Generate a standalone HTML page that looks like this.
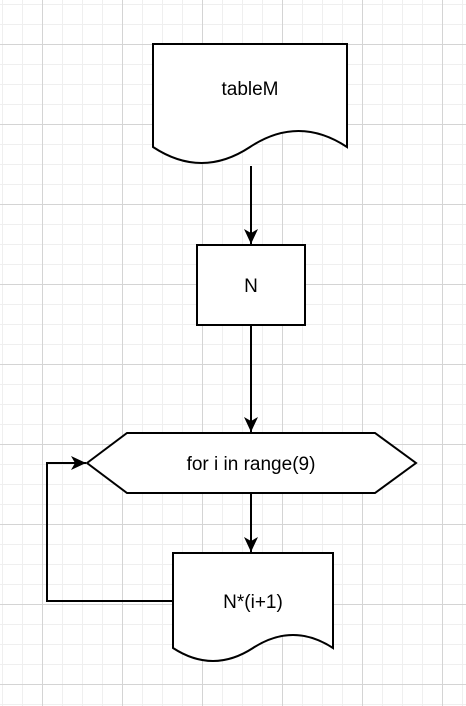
<!DOCTYPE html>
<html><head><style>
html,body{margin:0;padding:0;background:#fff;}
svg{display:block;}
text{font-family:"Liberation Sans",Arial,sans-serif;font-size:19px;fill:#000;}
</style></head><body>
<svg width="466" height="706" viewBox="0 0 466 706" xmlns="http://www.w3.org/2000/svg">
<defs>
<pattern id="minor" width="20" height="20" patternUnits="userSpaceOnUse" x="2" y="4">
<path d="M0.5 0V20M0 0.5H20" stroke="#efefef" stroke-width="1" fill="none"/>
</pattern>
<pattern id="major" width="80" height="80" patternUnits="userSpaceOnUse" x="42" y="44">
<path d="M0.5 0V80M0 0.5H80" stroke="#d4d4d4" stroke-width="1" fill="none"/>
</pattern>
<marker id="ah" markerWidth="16" markerHeight="14" refX="15" refY="7" orient="auto" markerUnits="userSpaceOnUse">
<path d="M0,0 L15,7 L0,14 L4,7 Z" fill="#000"/>
</marker>
</defs>
<rect width="466" height="706" fill="url(#minor)"/>
<rect width="466" height="706" fill="url(#major)"/>
<g stroke="#000" stroke-width="2" fill="#fff">
<path d="M153,44 H347 V147 Q298.5,115 250,147 Q201.5,179 153,147 Z" transform="matrix(-1 0 0 1 500 0)" style="display:none"/>
<path d="M153,44 H347 V147 Q298.5,115 250,147 Q201.5,179 153,147 Z" transform="matrix(1 0 0 1 0 0)" style="display:none"/>
<path d="M153,44 H347 V147 Q298.5,115 250,147 Q201.5,179 153,147 Z" style="display:none"/>
<path d="M153,44 V147 Q201.5,179 250,147 Q298.5,115 347,147 V44 Z"/>
<rect x="197" y="245" width="108" height="80"/>
<path d="M87,463 L127,433 H375 L416,463 L375,493 H127 Z"/>
<path d="M173,553 V648 Q213,674 253,648 Q293,622 333,648 V553 Z"/>
</g>
<g stroke="#000" stroke-width="2" fill="none">
<line x1="251" y1="166" x2="251" y2="244" marker-end="url(#ah)"/>
<line x1="251" y1="326" x2="251" y2="432" marker-end="url(#ah)"/>
<line x1="251" y1="494" x2="251" y2="552" marker-end="url(#ah)"/>
<path d="M173,601 H47 V463 H86" marker-end="url(#ah)"/>
</g>
<text x="250" y="95" text-anchor="middle">tableM</text>
<text x="251" y="292" text-anchor="middle">N</text>
<text x="251" y="470" text-anchor="middle">for i in range(9)</text>
<text x="253" y="608" text-anchor="middle">N*(i+1)</text>
</svg>
</body></html>
